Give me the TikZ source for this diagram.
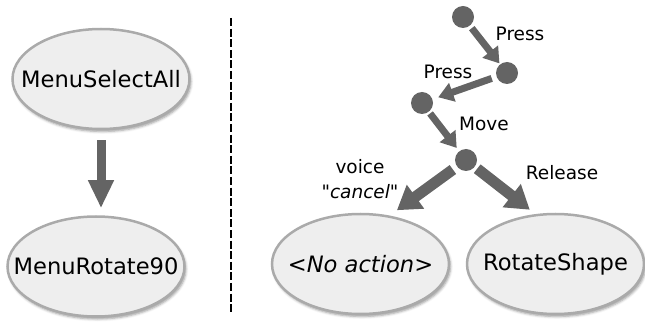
\documentclass[tikz,border=0pt]{standalone}
\usepackage{fontspec}
\setmainfont{DejaVu Sans}[Ligatures=TeXOff]
\usetikzlibrary{arrows.meta,shapes.geometric,shadows.blur}
\definecolor{statefill}{HTML}{EEEEEE}
\definecolor{stateline}{HTML}{AAAAAA}
\definecolor{flow}{HTML}{646464}
% text in a zero-width box so the ellipse keeps its own size
\newcommand{\statetext}[1]{\makebox[0pt]{#1}}
\tikzset{
  state/.style={ellipse, draw=stateline, line width=2.5pt, fill=statefill,
    minimum width=177pt, minimum height=100pt, inner sep=0pt,
    font=\fontsize{22.6}{27}\selectfont,
    blur shadow={shadow xshift=1.5pt, shadow yshift=-2.5pt, shadow blur radius=2.5pt, shadow opacity=40}},
  dot/.style={circle, fill=flow, minimum size=22pt, inner sep=0pt},
  lbl/.style={font=\fontsize{18.5}{25}\selectfont, inner sep=0pt, align=center},
  smallarrow/.style={draw=flow, line width=7pt, -{Triangle[width=19pt,length=15pt]}},
  bigarrow/.style={draw=flow, line width=11pt, -{Triangle[width=28pt,length=23pt]}},
  mainarrow/.style={draw=flow, line width=9pt, -{Triangle[width=24pt,length=28pt]}},
}
\begin{document}
\begin{tikzpicture}[x=1pt,y=1pt]
  \useasboundingbox (0,0) rectangle (645,324);

  % left column: menu commands
  \node[state] (sel) at (101,245) {\statetext{MenuSelectAll}};
  \node[state] (rot90) at (96,57.5) {\statetext{MenuRotate90}};
  \draw[mainarrow, shorten <=10pt, shorten >=7pt] (sel.south) -- (sel.south |- rot90.north);

  % separator
  \draw[line width=1.3pt, dash pattern=on 8pt off 2.6pt] (231,306) -- (231,11);

  % right side: gesture sequence
  \node[state] (noact) at (360.5,60) {\statetext{\itshape <No action>}};
  \node[state] (rshape) at (555.5,60) {\statetext{RotateShape}};

  \node[dot] (d1) at (463,307) {};
  \node[dot] (d2) at (507,251) {};
  \node[dot] (d3) at (422,221) {};
  \node[dot] (d4) at (466,164) {};

  \draw[smallarrow, shorten <=3pt, shorten >=1pt] (d1) -- (d2);
  \draw[smallarrow, shorten <=5pt, shorten >=6pt] (d2) -- (d3);
  \draw[smallarrow, shorten <=2pt, shorten >=4pt] (d3) -- (d4);
  \draw[bigarrow, shorten <=5pt, shorten >=9pt] (d4) -- (noact.59);
  \draw[bigarrow, shorten <=3pt, shorten >=7pt] (d4) -- (rshape.112);

  \node[lbl] (p1) at (520,290) {Press};
  \node[lbl] (p2) at (448,252) {Press};
  \node[lbl] (mv) at (484,200) {Move};
  \node[lbl] (vc) at (360,144.5) {voice\\"\textit{cancel}"};
  \node[lbl] (rl) at (562,151) {Release};
\end{tikzpicture}
\end{document}
